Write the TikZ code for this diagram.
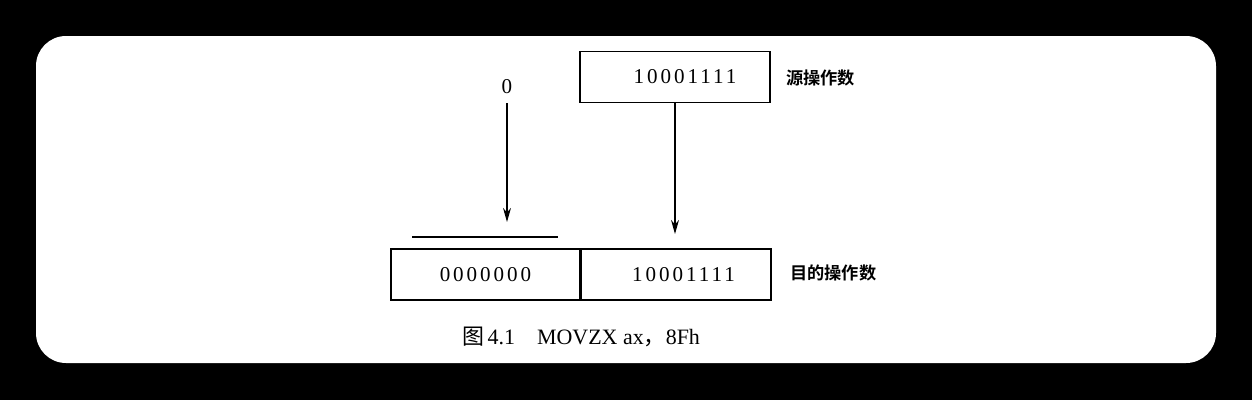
\documentclass[tikz,border=0pt]{standalone}
\usepackage{fontspec}
\setmainfont{Liberation Serif}
\newfontfamily\cjk{Noto Sans CJK SC}[BoldFont={Noto Sans CJK SC Bold}]
\newfontfamily\bitfont[LetterSpace=14]{Liberation Serif}
\usetikzlibrary{arrows.meta,positioning}
\tikzset{
  regbox/.style={draw,semithick,minimum height=1.02cm,inner sep=0pt,font=\bitfont\fontsize{12}{14}\selectfont},
  oplabel/.style={anchor=west,font=\cjk\bfseries\fontsize{9.8}{12}\selectfont},
  flow/.style={semithick,-{Stealth[length=8pt,width=4.5pt]}},
}
\begin{document}
\begin{tikzpicture}[x=0.02cm,y=-0.02cm]
        %% background and card
        \fill[black] (0,0) rectangle (1252,400);
        \fill[white,rounded corners=0.6cm] (36,36) rectangle (1216,363);
        \useasboundingbox (0,0) rectangle (1252,400);
        %% source operand
        \node[regbox,minimum width=3.8cm] (src) at (675,77) {\hspace*{0.4cm}10001111};
        \node[oplabel] (srclbl) at (780,78) {源操作数};
        %% zero
        \node[font=\fontsize{12}{14}\selectfont] (zero) at (507,87) {0};
        %% destination operand
        \node[regbox,minimum width=3.78cm] (hi) at (485.5,274.5) {0000000};
        \node[regbox,minimum width=3.8cm,right=0pt of hi] (lo) {\hspace*{0.3cm}10001111};
        \node[oplabel] (dstlbl) at (784,273) {目的操作数};
        %% arrows
        \coordinate (zerotip) at (507,222);
        \coordinate (srctip) at (675,234);
        \draw[flow] (zero.south |- 0,103) -- (zerotip);
        \draw[flow] (src.south) -- (srctip);
        %% bar over upper byte
        \coordinate (barl) at (412,237);
        \coordinate (barr) at (558,237);
        \draw[semithick] (barl) -- (barr);
        %% caption
        \node[font=\fontsize{12.5}{15}\selectfont] (cap) at (581,337) {{\cjk 图}\,4.1\quad MOVZX ax{\cjk ，}8Fh};
    \end{tikzpicture}
\end{document}
